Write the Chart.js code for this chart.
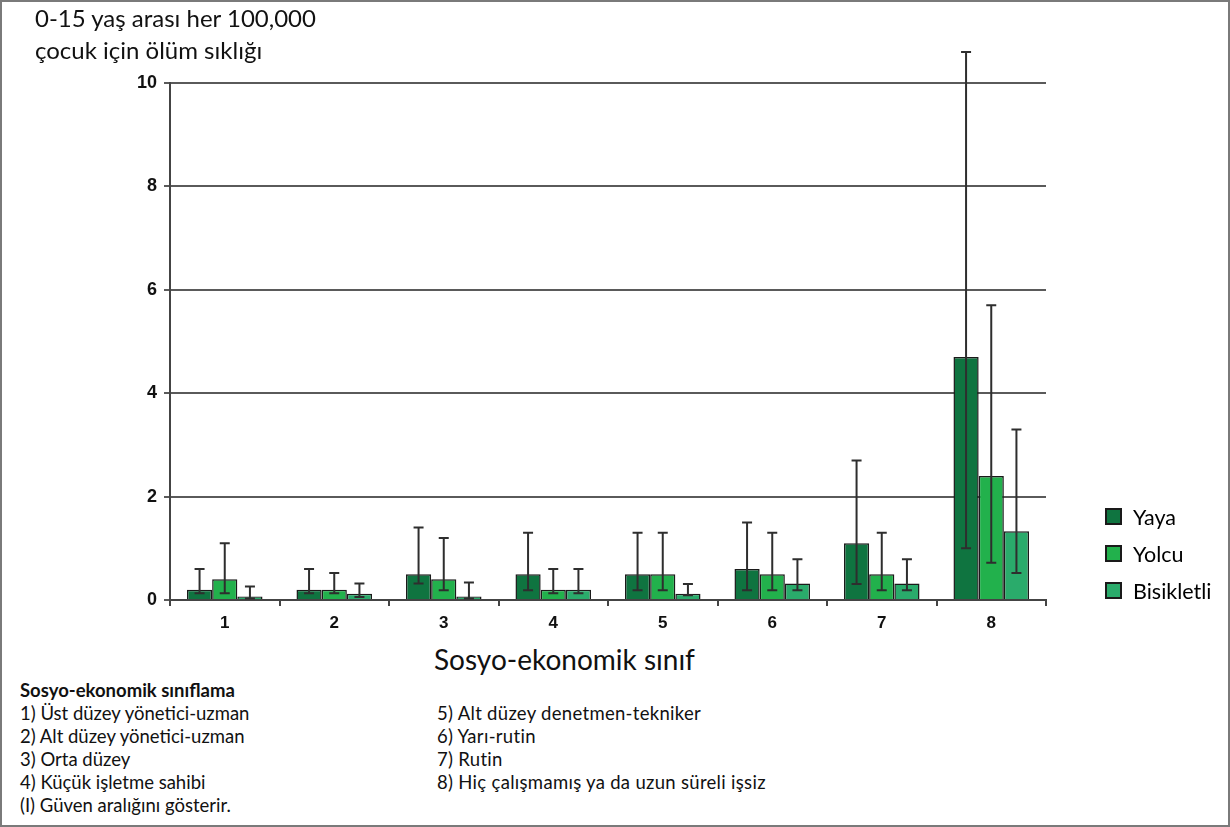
<!DOCTYPE html>
<html>
<head>
<meta charset="utf-8">
<script src="https://cdn.jsdelivr.net/npm/chart.js@4"></script>
<style>
  body { margin: 0; background: #fff; }
  #frame { position: relative; width: 1230px; height: 827px; box-sizing: border-box; border: 2px solid #7a7a7a; overflow: hidden; }
  #wrap { position: absolute; left: -2px; top: -2px; width: 1230px; height: 640px; }
  .txt { position: absolute; font-family: Lato, "Open Sans", sans-serif; color: #111; white-space: nowrap; }
  #ytitle { left: 33px; top: 0px; font-size: 24px; line-height: 32px; }
  #xtitle { left: 432px; top: 640px; font-size: 28px; }
  #legend { position: absolute; left: 1103px; top: 496px; }
  .leg { height: 37px; display: flex; align-items: center; font-family: Lato, sans-serif; font-size: 21.5px; }
  .sw { width: 13px; height: 13px; border: 2px solid #1a1a1a; margin-right: 11px; }
  #notes { left: 18px; top: 677px; font-size: 18.5px; line-height: 23px; }
  #notes2 { left: 435px; top: 700px; font-size: 18.5px; line-height: 23px; letter-spacing: 0.3px; }
</style>
</head>
<body>
<div id="frame">
  <div id="wrap"><canvas id="chart"></canvas></div>
  <div class="txt" id="ytitle">0-15 yaş arası her 100,000<br>çocuk için ölüm sıklığı</div>
  <div class="txt" id="xtitle">Sosyo-ekonomik sınıf</div>
  <div id="legend"></div>
  <div class="txt" id="notes"></div>
  <div class="txt" id="notes2"></div>
</div>
<script>
const categories = ["1", "2", "3", "4", "5", "6", "7", "8"];
const seriesNames = ["Yaya", "Yolcu", "Bisikletli"];
const seriesColors = ["#0f7440", "#22b14c", "#2aab6b"];

const yaya = [0.2, 0.2, 0.5, 0.5, 0.5, 0.6, 1.1, 4.7];
const yayaLow = [0.13, 0.13, 0.32, 0.19, 0.19, 0.19, 0.31, 1.0];
const yayaHigh = [0.6, 0.6, 1.4, 1.3, 1.3, 1.5, 2.7, 10.6];

const yolcu = [0.4, 0.2, 0.4, 0.2, 0.5, 0.5, 0.5, 2.4];
const yolcuLow = [0.13, 0.13, 0.19, 0.13, 0.19, 0.19, 0.19, 0.72];
const yolcuHigh = [1.1, 0.52, 1.2, 0.6, 1.3, 1.3, 1.3, 5.7];

const bisikletli = [0.07, 0.12, 0.07, 0.2, 0.12, 0.32, 0.32, 1.33];
const bisikletliLow = [0.03, 0.06, 0.03, 0.13, 0.09, 0.19, 0.19, 0.52];
const bisikletliHigh = [0.26, 0.32, 0.34, 0.6, 0.31, 0.79, 0.79, 3.3];

const yTicks = [0, 2, 4, 6, 8, 10];

const notesLeft = [
  "1) Üst düzey yönetici-uzman",
  "2) Alt düzey yönetici-uzman",
  "3) Orta düzey",
  "4) Küçük işletme sahibi",
  "(I) Güven aralığını gösterir."
];
const notesRight = [
  "5) Alt düzey denetmen-tekniker",
  "6) Yarı-rutin",
  "7) Rutin",
  "8) Hiç çalışmamış ya da uzun süreli işsiz"
];

document.getElementById("notes").innerHTML =
  "<b>Sosyo-ekonomik sınıflama</b><br>" + notesLeft.join("<br>");
document.getElementById("notes2").innerHTML = notesRight.join("<br>");
document.getElementById("legend").innerHTML = seriesNames.map((n, i) =>
  `<div class="leg"><span class="sw" style="background:${seriesColors[i]}"></span>${n}</div>`).join("");

const values = [yaya, yolcu, bisikletli];
const lows = [yayaLow, yolcuLow, bisikletliLow];
const highs = [yayaHigh, yolcuHigh, bisikletliHigh];

// confidence intervals drawn on top of the bars
const errorBars = {
  id: "errorBars",
  afterDatasetsDraw(chart) {
    const ctx = chart.ctx;
    const y = chart.scales.y;
    ctx.save();
    ctx.strokeStyle = "#2e2e2e";
    ctx.lineWidth = 2;
    chart.data.datasets.forEach((ds, di) => {
      const meta = chart.getDatasetMeta(di);
      meta.data.forEach((bar, i) => {
        const x = bar.x;
        const y1 = y.getPixelForValue(lows[di][i]);
        const y2 = y.getPixelForValue(highs[di][i]);
        ctx.beginPath();
        ctx.moveTo(x, y1); ctx.lineTo(x, y2);
        ctx.moveTo(x - 5, y1); ctx.lineTo(x + 5, y1);
        ctx.moveTo(x - 5, y2); ctx.lineTo(x + 5, y2);
        ctx.stroke();
      });
    });
    ctx.restore();
  }
};

new Chart(document.getElementById("chart"), {
  type: "bar",
  data: {
    labels: categories,
    datasets: seriesNames.map((name, i) => ({
      label: name,
      data: values[i],
      backgroundColor: seriesColors[i],
      borderColor: "#1a1a1a",
      borderWidth: 1.5,
      categoryPercentage: 0.69,
      barPercentage: 1.0
    }))
  },
  options: {
    responsive: true,
    maintainAspectRatio: false,
    animation: false,
    layout: { padding: { top: 83, right: 184, left: 0, bottom: 0 } },
    plugins: { legend: { display: false }, tooltip: { enabled: false } },
    scales: {
      x: {
        afterFit: (s) => { s.height = 40; },
        grid: { drawOnChartArea: false, offset: true, tickLength: 6, color: "#444", lineWidth: 2 },
        border: { color: "#444", width: 2 },
        ticks: { color: "#111", padding: 7, font: { family: "Liberation Sans", size: 17, weight: "bold" } }
      },
      y: {
        min: 0,
        max: 10,
        afterFit: (s) => { s.width = 170; },
        afterBuildTicks: (s) => { s.ticks = yTicks.map(v => ({ value: v })); },
        grid: { color: "#5a5a5a", lineWidth: 2, tickLength: 6 },
        border: { color: "#444", width: 2 },
        ticks: { color: "#111", padding: 7, font: { family: "Liberation Sans", size: 18, weight: "bold" } }
      }
    }
  },
  plugins: [errorBars]
});
</script>
</body>
</html>
